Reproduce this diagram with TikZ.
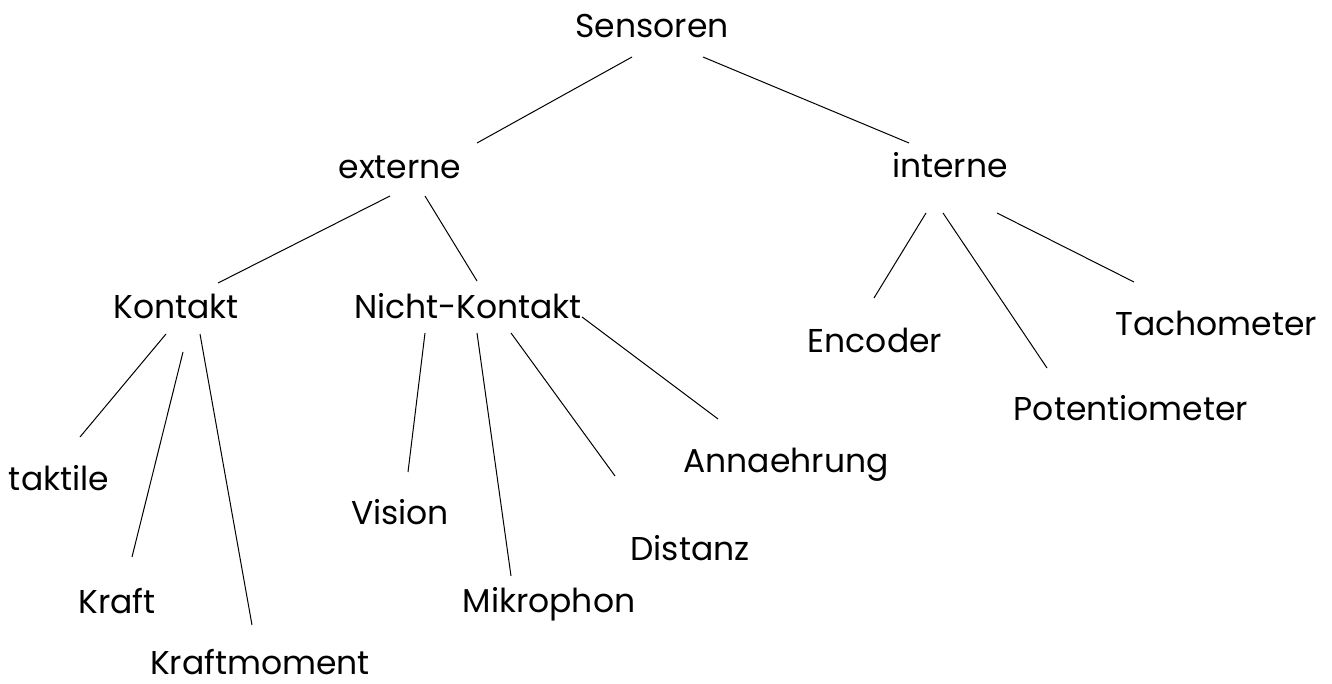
\documentclass[tikz,border=0pt]{standalone}
\usepackage{fontspec}
\setmainfont{Poppins}
\usetikzlibrary{calc}
\tikzset{
  lbl/.style={anchor=base, inner sep=0pt, font=\fontsize{33}{33}\selectfont},
  edge/.style={line width=1pt, black}
}
\begin{document}
\begin{tikzpicture}[x=1pt,y=-1pt]
\useasboundingbox[fill=white] (0,0) rectangle (1332,684);
% nodes (base anchor = centre of baseline)
\node[lbl] (S)    at (652,38)  {Sensoren};
\node[lbl] (ext)  at (400,179) {externe};
\node[lbl] (int)  at (950,178) {interne};
\node[lbl] (kon)  at (176,319) {Kontakt};
\node[lbl] (nk)   at (468,319) {Nicht-Kontakt};
\node[lbl] (enc)  at (875,352) {Encoder};
\node[lbl] (tach) at (1216,335) {Tachometer};
\node[lbl] (pot)  at (1131,420) {Potentiometer};
\node[lbl] (tak)  at (59,490)  {taktile};
\node[lbl] (ann)  at (786,472) {Annaehrung};
\node[lbl] (vis)  at (400,524) {Vision};
\node[lbl] (dis)  at (690,560) {Distanz};
\node[lbl] (kraft) at (117,613) {Kraft};
\node[lbl] (mik)  at (549,612) {Mikrophon};
\node[lbl] (km)   at (260,674) {Kraftmoment};
% connectors
\draw[edge] ($(S.base)+(-20,19)$) -- ($(ext.base)+(77,-36)$);
\draw[edge] ($(S.base)+(51,19)$) -- ($(int.base)+(-41,-35)$);
\draw[edge] ($(ext.base)+(-10,17)$) -- ($(kon.base)+(42,-36)$);
\draw[edge] ($(ext.base)+(25,17)$) -- ($(nk.base)+(9,-38)$);
\draw[edge] ($(int.base)+(-24,35)$) -- ($(enc.base)+(-1,-54)$);
\draw[edge] ($(int.base)+(-7,35)$) -- ($(pot.base)+(-84,-52)$);
\draw[edge] ($(int.base)+(47,35)$) -- ($(tach.base)+(-82,-53)$);
\draw[edge] ($(kon.base)+(-10,15)$) -- ($(tak.base)+(21,-53)$);
\draw[edge] ($(kon.base)+(7,33)$) -- ($(kraft.base)+(15,-56)$);
\draw[edge] ($(kon.base)+(24,15)$) -- ($(km.base)+(-8,-49)$);
\draw[edge] ($(nk.base)+(-43,14)$) -- ($(vis.base)+(8,-52)$);
\draw[edge] ($(nk.base)+(9,14)$) -- ($(mik.base)+(-38,-36)$);
\draw[edge] ($(nk.base)+(43,14)$) -- ($(dis.base)+(-75,-84)$);
\draw[edge] ($(nk.base)+(114,-2)$) -- ($(ann.base)+(-68,-53)$);
\end{tikzpicture}
\end{document}
